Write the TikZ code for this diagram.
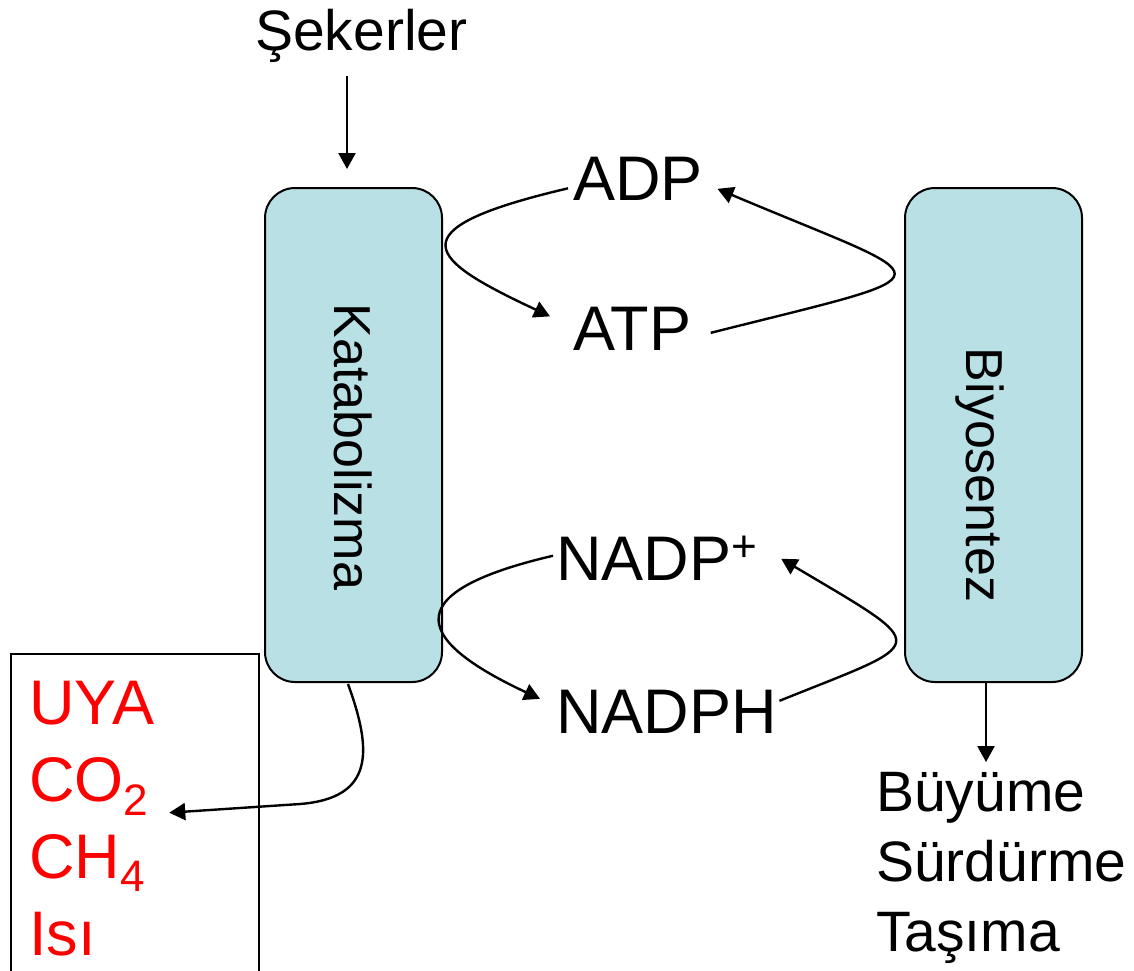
\documentclass[tikz,border=0pt]{standalone}
\usepackage{fontspec}
\setmainfont{Liberation Sans}
\usetikzlibrary{arrows.meta}
\usetikzlibrary{positioning}
\usetikzlibrary{calc}
\definecolor{boxblue}{RGB}{185,224,228}

\begin{document}
\begin{tikzpicture}[x=0.5pt,y=-0.5pt,>={Triangle[length=8pt,width=8.5pt]},
		line width=1.2pt,inner sep=0pt]
		\tikzstyle{process}=[draw,line width=1pt,fill=boxblue,rounded corners=15pt,minimum width=88.5pt,minimum height=247pt]
		\tikzstyle{proclabel}=[rotate=-90,font=\fontsize{26}{30}\selectfont]
		\tikzstyle{molecule}=[font=\fontsize{31.5}{38}\selectfont,anchor=base west]
		\tikzstyle{outlist}=[align=left,anchor=north west]
		
		\useasboundingbox (0,0) rectangle (1134,970);
		
		\node[font=\fontsize{28.5}{34}\selectfont,anchor=base west] (Sekerler) at (254,50) {Şekerler};
		\node[process]     (Katabolizma)  at (353.5,435)   {};
		\node[process]     (Biyosentez)   at (993.5,435)   {};
		\node[proclabel]   (KatLabel)     at ([yshift=-6pt]Katabolizma.center)  {Katabolizma};
		\node[proclabel]   (BiyLabel)     at ([xshift=-6.75pt,yshift=-20pt]Biyosentez.center) {Biyosentez};
		
		\node[molecule]    (ADP)    at (572,200)   {ADP};
		\node[molecule]    (ATP)    at (572,350)   {ATP};
		\node[molecule]    (NADP)   at (555,580)   {NADP\textsuperscript{+}};
		\node[molecule]    (NADPH)  at (555,733)   {NADPH};
		
		\node[draw,line width=0.9pt,anchor=north west,minimum width=124pt,minimum height=172pt] (AtikKutu) at (10,653) {};
		\node[outlist,text=red,font=\fontsize{31.5}{38.5}\selectfont] (Atik) at (28,680)
		{UYA\\CO\textsubscript{2}\\CH\textsubscript{4}\\Isı};
		\node[outlist,font=\fontsize{28.5}{35}\selectfont] (Buyume) at (875,771)
		{Büyüme\\Sürdürme\\Taşıma};
		
		% sugars in, products out
		\draw[->,shorten <=6.5pt,shorten >=9pt] ([xshift=-3.25pt]Katabolizma.north |- Sekerler.south) -- ([xshift=-3.25pt]Katabolizma.north);
		\draw[->,shorten >=4.5pt] ([xshift=-3.75pt]Biyosentez.south) -- ([xshift=-3.75pt]Biyosentez.south |- Buyume.north);
		\draw[->] ([shift={(-5.5,1)}]Katabolizma.south) .. controls (372,750) and (375,798) .. (300,804)
		-- ([shift={(14,-6)}]Atik.east);
		
		% ADP / ATP cycle
		\draw[->] ([shift={(-4,10)}]ADP.west) .. controls (390,230) and (430,260) .. ([shift={(-22,-12)}]ATP.west);
		\draw[->] ([shift={(18.5,4.5)}]ATP.east) .. controls (960,270) and (945,285) .. ([shift={(13.5,10.5)}]ADP.east);
		
		% NADP+ / NADPH cycle
		\draw[->] ([shift={(-2,-2.5)}]NADP.west) .. controls (385,595) and (425,645) .. ([shift={(-15,-12.5)}]NADPH.west);
		\draw[->] ([shift={(1.5,-10.5)}]NADPH.east) .. controls (930,640) and (935,650) .. ([shift={(22,0.5)}]NADP.east);
\end{tikzpicture}
\end{document}
